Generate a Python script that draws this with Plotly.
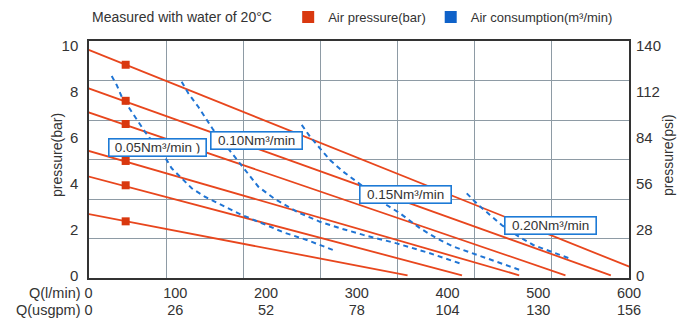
import plotly.graph_objects as go

# ---- pressure lines: shut-off pressure (bar) at Q = 0 and max flow (l/min) at 0 bar
line_p0 = [9.89, 8.21, 7.16, 5.47, 4.35, 2.70]
line_qmax = [624, 580, 530, 479, 416, 356]

# operating points marked on the pressure lines
mark_q = [45.4, 45.4, 45.4, 45.4, 45.4, 45.4]
mark_p = [9.17, 7.60, 6.59, 4.98, 3.92, 2.35]

# ---- air consumption curves (flow l/min, pressure bar)
air_names = ["0.05Nm³/min )", "0.10Nm³/min", "0.15Nm³/min", "0.20Nm³/min"]
air_q_005 = [30.0, 35.5, 41.0, 50.2, 59.3, 66.7, 90.6, 96.1, 107.1, 118.2, 132.8,
             154.9, 173.3, 197.8, 219.9, 244.9, 270.5, 276.0]
air_p_005 = [8.68, 8.29, 7.78, 7.21, 6.69, 6.25, 5.02, 4.66, 4.22, 3.79, 3.42,
             2.99, 2.63, 2.23, 1.86, 1.54, 1.18, 1.07]
air_q_010 = [107.1, 114.4, 125.4, 136.4, 142.0, 164.0, 176.9, 191.5, 209.9, 233.8,
             259.5, 281.6, 307.2, 344.0, 380.7, 417.4]
air_p_010 = [8.43, 7.93, 7.34, 6.69, 6.33, 5.24, 4.59, 3.86, 3.32, 2.77,
             2.33, 2.05, 1.76, 1.39, 0.96, 0.47]
air_q_015 = [239.4, 248.5, 259.5, 270.5, 285.2, 299.9, 333.0, 347.7, 369.7, 388.1,
             406.4, 428.4, 454.2, 479.9]
air_p_015 = [6.55, 6.04, 5.53, 5.02, 4.51, 4.08, 3.06, 2.70, 2.05, 1.61,
             1.25, 0.96, 0.59, 0.23]
air_q_020 = [421.2, 434.0, 446.8, 459.7, 479.9, 494.5, 509.3, 524.0, 536.8]
air_p_020 = [3.57, 3.06, 2.63, 2.19, 1.65, 1.32, 1.10, 0.88, 0.70]

# where each consumption curve is labelled (flow, pressure)
air_label_q = [80.1, 189.3, 353.4, 514.0]
air_label_p = [5.58, 5.88, 3.53, 2.16]

# ---- axis ticks
q_lmin = [100, 200, 300, 400, 500, 600]
q_usgpm = [26, 52, 78, 104, 130, 156]
bar_ticks = [0, 2, 4, 6, 8, 10]
psi_ticks = [0, 28, 56, 84, 112, 140]

RED = "#e8461d"
RED_MARK = "#d9380f"
BLUE = "#1f74d4"
TEXT = "#333333"
GRID = "#8e9ba5"
FONT = "Liberation Sans, Arial, sans-serif"

fig = go.Figure()

# pressure lines as one trace broken by gaps
lx, ly = [], []
for p0, qm in zip(line_p0, line_qmax):
    lx += [0, qm, None]
    ly += [p0, 0, None]
fig.add_trace(go.Scatter(x=lx, y=ly, mode="lines", line=dict(color=RED, width=1.8),
                         showlegend=False, hoverinfo="skip"))

# dashed consumption curves
for qs, ps in [(air_q_005, air_p_005), (air_q_010, air_p_010),
               (air_q_015, air_p_015), (air_q_020, air_p_020)]:
    fig.add_trace(go.Scatter(x=qs, y=ps, mode="lines",
                             line=dict(color=BLUE, width=2, dash="5px,4px"),
                             showlegend=False, hoverinfo="skip"))

# operating point markers (also the legend key for pressure)
fig.add_trace(go.Scatter(x=mark_q, y=mark_p, mode="markers", name="Air pressure(bar)",
                         marker=dict(symbol="square", size=8, color=RED_MARK)))
# legend key for consumption
fig.add_trace(go.Scatter(x=[None], y=[None], mode="markers", name="Air consumption(m³/min)",
                         marker=dict(symbol="square", size=8, color="#0f62c9")))

# helper traces so the overlay axes (grid, usgpm, psi) are drawn
fig.add_trace(go.Scatter(x=[], y=[], xaxis="x2", yaxis="y3", showlegend=False, hoverinfo="skip"))
fig.add_trace(go.Scatter(x=[], y=[], xaxis="x3", yaxis="y2", showlegend=False, hoverinfo="skip"))

annotations = []
for name, q, p in zip(air_names, air_label_q, air_label_p):
    annotations.append(dict(
        x=q, y=p, xref="x", yref="y", text=name, showarrow=False,
        font=dict(family=FONT, size=13.5, color=TEXT),
        bgcolor="white", bordercolor="#1d7ad6", borderwidth=1.6, borderpad=2,
        height=12, width=86 if name != air_names[0] else 92,
    ))

annotations += [
    dict(x=0.002, y=1.101, xref="paper", yref="paper", xanchor="left", yanchor="middle",
         text="Measured with water of 20°C", showarrow=False,
         font=dict(family=FONT, size=14, color=TEXT)),
    dict(x=0.011, y=-0.0612, xref="paper", yref="paper", xanchor="right", yanchor="middle",
         text="Q(l/min) 0", showarrow=False, font=dict(family=FONT, size=14.5, color=TEXT)),
    dict(x=0.011, y=-0.133, xref="paper", yref="paper", xanchor="right", yanchor="middle",
         text="Q(usgpm) 0", showarrow=False, font=dict(family=FONT, size=14.5, color=TEXT)),
    dict(x=-0.0593, y=0.519, xref="paper", yref="paper", xanchor="center", yanchor="middle",
         text="pressure(bar)", textangle=-90, showarrow=False,
         font=dict(family=FONT, size=14, color=TEXT)),
    dict(x=1.0722, y=0.519, xref="paper", yref="paper", xanchor="center", yanchor="middle",
         text="pressure(psi)", textangle=-90, showarrow=False,
         font=dict(family=FONT, size=14, color=TEXT)),
]

tick_font = dict(family=FONT, size=14.5, color=TEXT)
ytick_font = dict(family=FONT, size=15, color=TEXT)

fig.update_layout(
    width=680, height=325,
    margin=dict(l=89, r=51, t=41, b=47, pad=0, autoexpand=False),
    paper_bgcolor="white", plot_bgcolor="white",
    font=dict(family=FONT, color=TEXT),
    showlegend=True,
    legend=dict(orientation="h", xref="container", yref="container",
                x=0.4238, y=1 - 17 / 325, xanchor="left", yanchor="middle",
                itemsizing="constant",
                font=dict(family=FONT, size=13, color=TEXT), bgcolor="rgba(0,0,0,0)",
                itemclick=False, itemdoubleclick=False),
    xaxis=dict(range=[5, 600], tickvals=q_lmin, ticktext=[str(v) for v in q_lmin],
               showgrid=False, zeroline=False, showline=True, linecolor=TEXT, linewidth=1.5,
               mirror=True, ticks="", tickfont=tick_font, ticklabelstandoff=1,
               automargin=False),
    xaxis3=dict(overlaying="x", anchor="y", side="bottom", range=[5, 600],
                tickvals=q_lmin, ticktext=[str(v) for v in q_usgpm],
                showgrid=False, zeroline=False, showline=False, ticks="",
                tickfont=tick_font, ticklabelstandoff=21, automargin=False),
    xaxis2=dict(overlaying="x", range=[0, 7], dtick=1, showgrid=True, gridcolor=GRID,
                gridwidth=1.2, zeroline=False, showline=False, showticklabels=False, ticks="",
                automargin=False),
    yaxis=dict(range=[-0.118, 10.205], tickvals=bar_ticks, showgrid=False, zeroline=False,
               showline=True, linecolor=TEXT, linewidth=1.5, mirror=True, ticks="",
               tickfont=ytick_font, ticklabelstandoff=6, automargin=False),
    yaxis2=dict(overlaying="y", side="right", anchor="x", range=[-1.65, 142.9],
                tickvals=psi_ticks, showgrid=False, zeroline=False, showline=False, ticks="",
                tickfont=ytick_font, ticklabelstandoff=6, automargin=False),
    yaxis3=dict(overlaying="y", range=[0, 6], dtick=1, showgrid=True, gridcolor=GRID,
                gridwidth=1.2, zeroline=False, showline=False, showticklabels=False, ticks="",
                automargin=False),
    annotations=annotations,
)

fig.write_html("out.html")
